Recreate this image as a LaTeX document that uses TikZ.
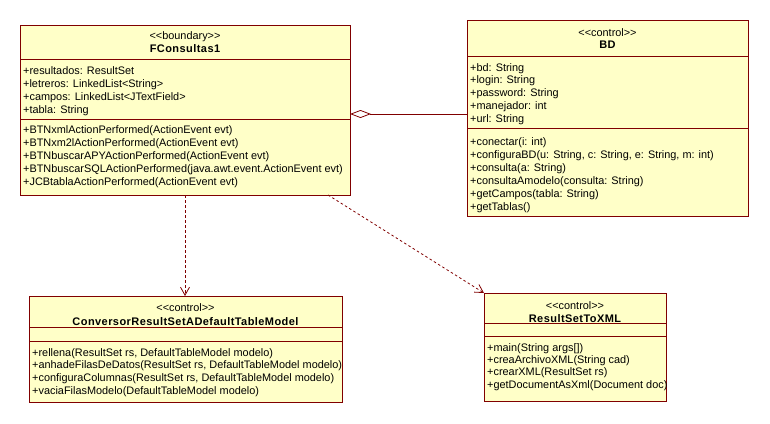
\documentclass[tikz,border=0pt]{standalone}
\usepackage{fontspec}
\setmainfont{Liberation Sans}
\usetikzlibrary{arrows.meta}
\definecolor{umlfill}{HTML}{FFFFC8}
\definecolor{umlline}{HTML}{800000}
% stereotype brackets written so that << and >> are not turned into guillemets
\newcommand\stereotype[1]{<{}<#1>{}>}
\begin{document}
\begin{tikzpicture}[x=1pt,y=-1pt,
  classbox/.style={draw=umlline, fill=umlfill, line width=0.9pt, anchor=north west,
    inner sep=0pt, outer sep=0pt},
  sepline/.style={draw=umlline, line width=0.9pt},
  member/.style={anchor=base west, inner sep=0pt, font=\fontsize{10.9}{13}\selectfont},
  stereo/.style={anchor=base, inner sep=0pt, font=\fontsize{10.9}{13}\selectfont},
  cname/.style={anchor=base, inner sep=0pt,
    font=\fontsize{11}{13}\selectfont\bfseries\addfontfeature{LetterSpace=4}},
  dep/.style={draw=umlline, line width=0.8pt, dash pattern=on 2.5pt off 2.5pt,
    -{Straight Barb[length=8pt,width=9pt]}},
  aggr/.style={draw=umlline, line width=0.8pt,
    {Diamond[open,length=21pt,width=8pt,line width=0.8pt]}-},
]
\useasboundingbox (0,0) rectangle (770,423);

% ---- FConsultas1 ----
\node[classbox, minimum width=330pt, minimum height=170pt] (fc) at (20,25) {};
\draw[sepline] (fc.west |- 0,59) -- (fc.east |- 0,59);
\draw[sepline] (fc.west |- 0,119) -- (fc.east |- 0,119);
\node[stereo] (fc-st) at (185,39) {\stereotype{boundary}};
\node[cname] (fc-nm) at (185,52) {FConsultas1};
\foreach \t [count=\i from 0] in {{+resultados: ResultSet},{+letreros: LinkedList<String>},
    {+campos: LinkedList<JTextField>},{+tabla: String}}
  \node[member] (fc-a\i) at (23,74.5+13*\i) {\t};
\foreach \t [count=\i from 0] in {{+BTNxmlActionPerformed(ActionEvent evt)},
    {+BTNxm2lActionPerformed(ActionEvent evt)},
    {+BTNbuscarAPYActionPerformed(ActionEvent evt)},
    {+BTNbuscarSQLActionPerformed(java.awt.event.ActionEvent evt)},
    {+JCBtablaActionPerformed(ActionEvent evt)}}
  \node[member] (fc-m\i) at (23,133+13.1*\i) {\t};

% ---- BD ----
\node[classbox, minimum width=281pt, minimum height=196pt] (bd) at (467,20) {};
\draw[sepline] (bd.west |- 0,56) -- (bd.east |- 0,56);
\draw[sepline] (bd.west |- 0,128) -- (bd.east |- 0,128);
\node[stereo] (bd-st) at (607.5,36) {\stereotype{control}};
\node[cname] (bd-nm) at (607.5,48) {BD};
\foreach \t [count=\i from 0] in {{+bd: String},{+login: String},{+password: String},
    {+manejador: int},{+url: String}}
  \node[member] (bd-a\i) at (470,71+12.8*\i) {\t};
\foreach \t [count=\i from 0] in {{+conectar(i: int)},
    {+configuraBD(u: String, c: String, e: String, m: int)},
    {+consulta(a: String)},{+consultaAmodelo(consulta: String)},
    {+getCampos(tabla: String)},{+getTablas()}}
  \node[member] (bd-m\i) at (470,145+13*\i) {\t};

% ---- ConversorResultSetADefaultTableModel ----
\node[classbox, minimum width=313pt, minimum height=106pt] (cv) at (29,296) {};
\draw[sepline] (cv.west |- 0,327) -- (cv.east |- 0,327);
\draw[sepline] (cv.west |- 0,341) -- (cv.east |- 0,341);
\node[stereo] (cv-st) at (185.5,311) {\stereotype{control}};
\node[cname] (cv-nm) at (185.5,325) {ConversorResultSetADefaultTableModel};
\foreach \t [count=\i from 0] in {{+rellena(ResultSet rs, DefaultTableModel modelo)},
    {+anhadeFilasDeDatos(ResultSet rs, DefaultTableModel modelo)},
    {+configuraColumnas(ResultSet rs, DefaultTableModel modelo)},
    {+vaciaFilasModelo(DefaultTableModel modelo)}}
  \node[member] (cv-m\i) at (32,356+12.7*\i) {\t};

% ---- ResultSetToXML ----
\node[classbox, minimum width=182pt, minimum height=108pt] (rs) at (484,293) {};
\draw[sepline] (rs.west |- 0,323) -- (rs.east |- 0,323);
\draw[sepline] (rs.west |- 0,336) -- (rs.east |- 0,336);
\node[stereo] (rs-st) at (575,309) {\stereotype{control}};
\node[cname] (rs-nm) at (575,322) {ResultSetToXML};
\foreach \t [count=\i from 0] in {{+main(String args[])},{+creaArchivoXML(String cad)},
    {+crearXML(ResultSet rs)},{+getDocumentAsXml(Document doc)}}
  \node[member] (rs-m\i) at (487,351+12.4*\i) {\t};

% ---- relations ----
\draw[aggr] (fc.east |- 0,114) -- (bd.west |- 0,114);
\draw[dep] (fc.south -| 185,0) -- (cv.north -| 185,0);
\draw[dep] (fc.south -| 328,0) -- (rs.north west);
\end{tikzpicture}
\end{document}
